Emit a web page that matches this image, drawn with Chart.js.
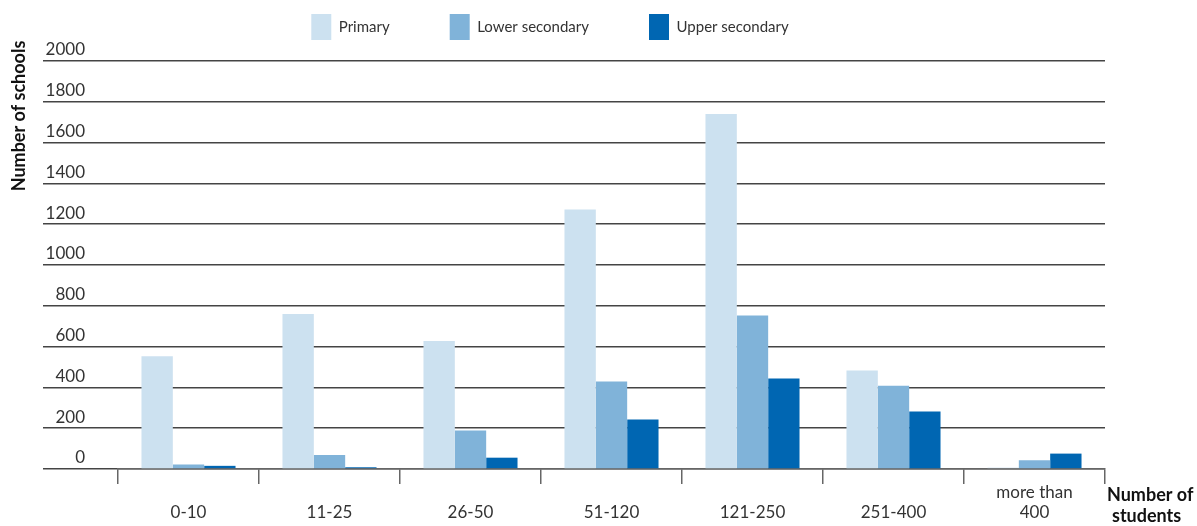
<!DOCTYPE html>
<html>
<head>
<meta charset="utf-8">
<script src="https://cdn.jsdelivr.net/npm/chart.js@4.4.1/dist/chart.umd.min.js"></script>
<style>
  body { margin: 0; background: #fff; }
  #wrap { width: 1197px; height: 526px; position: relative; }
</style>
</head>
<body>
<div id="wrap"><canvas id="schools"></canvas></div>
<script>
// size groups (number of students)
const categories = ['0-10', '11-25', '26-50', '51-120', '121-250', '251-400', ['more than', '400']];
const primary = [552, 760, 627, 1272, 1740, 482, 6];
const lowerSecondary = [22, 68, 188, 428, 752, 408, 42];
const upperSecondary = [15, 8, 55, 242, 443, 282, 75];
const yTicks = [0, 200, 400, 600, 800, 1000, 1200, 1400, 1600, 1800, 2000];

const font = 'Lato';

// axis titles sit outside the plot, draw them by hand
const axisTitles = {
    id: 'axisTitles',
    afterDraw(chart) {
        const c = chart.ctx;
        c.save();
        c.fillStyle = '#111';
        c.font = 'bold 18px ' + font;
        c.textBaseline = 'middle';
        c.translate(19, 116);
        c.rotate(-Math.PI / 2);
        c.textAlign = 'center';
        c.fillText('Number of schools', 0, 0);
        c.restore();

        c.save();
        c.fillStyle = '#111';
        c.font = 'bold 18px ' + font;
        c.textBaseline = 'middle';
        c.textAlign = 'left';
        c.fillText('Number of', 1107, 495);
        c.fillText('students', 1112, 516);
        c.restore();
    }
};

// legend sits a bit left of centre and higher than chart.js puts it
const legendShift = {
    id: 'legendShift',
    afterLayout(chart) {
        const lg = chart.legend;
        lg.left -= 24;
        lg.right -= 24;
        lg.top -= 11;
        lg.bottom -= 11;
    }
};

const ctx = document.getElementById('schools');
const chart = new Chart(ctx, {
    type: 'bar',
    data: {
        labels: categories,
        datasets: [{
            label: 'Primary',
            data: primary,
            backgroundColor: '#cce1f0'
        }, {
            label: 'Lower secondary',
            data: lowerSecondary,
            backgroundColor: '#80b3d9'
        }, {
            label: 'Upper secondary',
            data: upperSecondary,
            backgroundColor: '#0066b2'
        }]
    },
    options: {
        responsive: true,
        maintainAspectRatio: false,
        animation: false,
        datasets: {
            bar: {
                categoryPercentage: 0.667,
                barPercentage: 1.0,
                borderWidth: 0
            }
        },
        layout: {
            padding: { top: -58, left: 43, right: 92, bottom: -15 }
        },
        plugins: {
            legend: {
                position: 'top',
                labels: {
                    boxWidth: 20,
                    boxHeight: 26,
                    padding: 60,
                    color: '#333',
                    font: { family: font, size: 15 }
                }
            },
            tooltip: { enabled: false }
        },
        scales: {
            x: {
                border: { display: true, color: '#666', width: 1.5 },
                grid: {
                    offset: true,
                    drawOnChartArea: false,
                    tickLength: 15,
                    color: '#666',
                    lineWidth: 1.5
                },
                ticks: {
                    color: '#333',
                    padding: 9,
                    maxRotation: 0,
                    autoSkip: false,
                    crossAlign: 'far',
                    font: { family: font, size: 17, lineHeight: 1.15 }
                }
            },
            y: {
                min: 0,
                max: 2000,
                border: { display: false },
                grid: {
                    color: '#444',
                    lineWidth: 1.5,
                    tickLength: 75
                },
                afterBuildTicks: function (scale) {
                    scale.ticks = yTicks.map(v => ({ value: v }));
                },
                afterFit: function (scale) {
                    scale.width = 75;
                    scale.paddingTop = 61;
                },
                ticks: {
                    color: '#333',
                    crossAlign: 'near',
                    padding: -42,
                    labelOffset: -11,
                    font: { family: font, size: 17 },
                    callback: function (value) {
                        return String(value);
                    }
                }
            }
        }
    },
    plugins: [axisTitles, legendShift]
});
</script>
</body>
</html>
